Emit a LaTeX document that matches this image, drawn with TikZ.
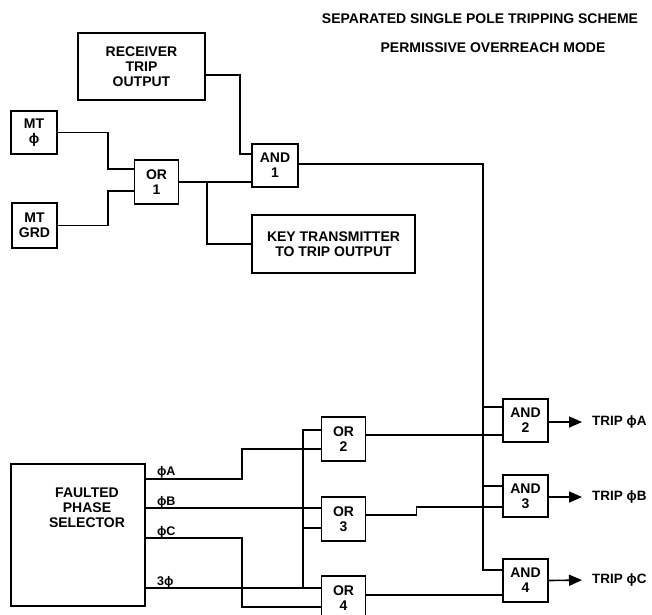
\documentclass[tikz,border=0pt]{standalone}
\usepackage{fontspec}
\setmainfont{Liberation Sans}
\usetikzlibrary{arrows.meta}
\begin{document}
\begin{tikzpicture}[x=1pt, y=-1pt,
    box/.style ={draw, line width=1.8pt, align=center, inner sep=0pt,
                 font=\bfseries\fontsize{14}{15}\selectfont},
    gate/.style ={box, minimum width=44pt, minimum height=44pt},
    wire/.style ={line width=1.6pt},
    lbl/.style ={font=\bfseries\fontsize{12.5}{14}\selectfont, inner sep=1pt},
    head/.style ={font=\bfseries\fontsize{14}{16}\selectfont},
    trip/.style ={font=\bfseries\fontsize{13.5}{15}\selectfont, anchor=west, inner sep=5pt},
    arr/.style ={wire, -{Triangle[length=13pt, width=11pt]}, shorten >=5pt}]
   \useasboundingbox (0,0) rectangle (652,614);
   \clip (0,0) rectangle (652,614);

   \node[head] (title) at (480,19) {SEPARATED SINGLE POLE TRIPPING SCHEME};
   \node[head] (mode)  at (493,48) {PERMISSIVE OVERREACH MODE};

   \node[box, minimum width=127pt, minimum height=67pt] (rcv) at (141.5,66.5) {RECEIVER\\TRIP\\OUTPUT};
   \node[box, minimum width=46pt, minimum height=43pt] (mtp) at (34,132.5) {MT\\ϕ};
   \node[box, minimum width=45pt, minimum height=45pt] (mtg) at (34.5,225.5) {MT\\GRD};
   \node[gate] (or1)  at (156.5,182) {OR\\1};
   \node[gate, minimum width=46pt, minimum height=43pt] (and1) at (275,165.5) {AND\\1};
   \node[box, minimum width=163pt, minimum height=58pt] (key) at (333.5,244) {KEY TRANSMITTER\\TO TRIP OUTPUT};

   \node[box, minimum width=134pt, minimum height=142pt,
         label={[box, draw=none, xshift=9pt, yshift=27pt]center:FAULTED\\PHASE\\SELECTOR}] (fps) at (78,535) {};
   \node[gate] (or2) at (343.5,439) {OR\\2};
   \node[gate] (or3) at (343.5,519) {OR\\3};
   \node[gate] (or4) at (343.5,598) {OR\\4};
   \node[gate, minimum width=45pt, minimum height=43pt] (and2) at (525.5,420.5) {AND\\2};
   \node[gate, minimum width=45pt, minimum height=42pt] (and3) at (525.5,496) {AND\\3};
   \node[gate, minimum width=45pt, minimum height=43pt] (and4) at (525.5,580.5) {AND\\4};

   \node[trip] (tripa) at (587,422) {TRIP ϕA};
   \node[trip] (tripb) at (587,497) {TRIP ϕB};
   \node[trip] (tripc) at (587,580) {TRIP ϕC};

   \node[lbl, anchor=base west] (pha) at ([xshift=10pt, yshift=60pt]fps.east) {ϕA};
   \node[lbl, anchor=base west] (phb) at ([xshift=10pt, yshift=30pt]fps.east) {ϕB};
   \node[lbl, anchor=base west] (phc) at ([xshift=10pt, yshift=0pt]fps.east) {ϕC};
   \node[lbl, anchor=base west] (thr) at ([xshift=10pt, yshift=-50pt]fps.east) {3ϕ};

   % upper part
   \draw[wire] (mtp.east) -- ++(50,0) |- ([yshift=13pt]or1.west);
   \draw[wire] (mtg.east) -- ++(50,0) |- ([yshift=-9pt]or1.west);
   \draw[wire] (or1.east) -- ([yshift=-16.5pt]and1.west);
   \coordinate (jk) at (207,182);
   \draw[wire] (jk) |- (key.west);
   \draw[wire] ([yshift=-8.5pt]rcv.east) -- ++(34,0) |- ([yshift=11.5pt]and1.west);
   \coordinate (bus) at (483,570);
   \draw[wire] ([yshift=1.5pt]and1.east) -| (bus) -- ([yshift=10.5pt]and4.west);
   \draw[wire] ([yshift=13.5pt]and2.west) -- ++(-20,0);
   \draw[wire] ([yshift=10pt]and3.west) -- ++(-20,0);

   % lower part
   \draw[wire] ([yshift=56pt]fps.east) -- ++(96,0) |- ([yshift=-10pt]or2.west);
   \draw[wire] ([yshift=27pt]fps.east) -- ([yshift=11pt]or3.west);
   \draw[wire] ([yshift=-3pt]fps.east) -- ++(96,0) |- ([yshift=-9pt]or4.west);
   \draw[wire] ([yshift=-53pt]fps.east) -- ([yshift=10pt]or4.west);
   \draw[wire] ([yshift=9pt]or2.west) -- ++(-17.5,0) |- ([yshift=10pt]or4.west);
   \draw[wire] ([yshift=-9pt]or3.west) -- ++(-17.5,0);
   \draw[wire] ([yshift=4pt]or2.east) -- ([yshift=-14.5pt]and2.west);
   \draw[wire] ([yshift=4pt]or3.east) -- ++(50,0) |- ([yshift=-11pt]and3.west);
   \draw[wire] ([yshift=3pt]or4.east) -- ([yshift=-14.5pt]and4.west);

   \draw[arr] ([yshift=-1.5pt]and2.east) -- (tripa.west);
   \draw[arr] ([yshift=-1pt]and3.east) -- (tripb.west);
   \draw[arr] (and4.east) -- (tripc.west);
\end{tikzpicture}
\end{document}
